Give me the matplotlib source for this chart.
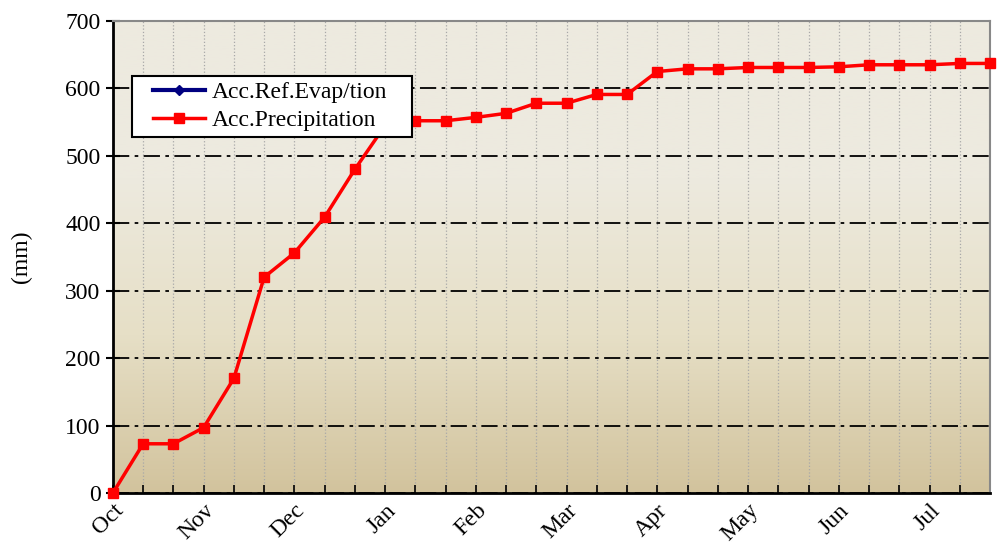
import numpy as np
import matplotlib
matplotlib.use('Agg')
import matplotlib.pyplot as plt
from matplotlib.colors import LinearSegmentedColormap
from matplotlib.patches import Rectangle

# dekad data, Oct 1st dekad .. Jul 3rd dekad
months = ['Oct', 'Nov', 'Dec', 'Jan', 'Feb', 'Mar', 'Apr', 'May', 'Jun', 'Jul']
acc_prec = [0, 73, 73, 97, 170, 320, 356, 409, 480, 545,
            552, 552, 557, 563, 578, 578, 591, 591, 625, 629,
            629, 631, 631, 631, 632, 635, 635, 635, 637, 637]
acc_evap = [0] + [np.nan] * 29

plt.rcParams['font.family'] = ['Liberation Serif', 'DejaVu Serif']

fig = plt.figure(figsize=(9.99, 5.47), dpi=100)
ax = fig.add_axes([0.113, 0.0987, 0.878, 0.863])

x = np.arange(len(acc_prec))

# background gradient
cmap = LinearSegmentedColormap.from_list('bg', ['#D2C39D', '#E6DFC6', '#EDEADF', '#EDEADF'])
grad = np.linspace(0, 1, 256).reshape(-1, 1)
ax.imshow(grad, aspect='auto', cmap=cmap, origin='lower',
          extent=[0, 29, 0, 700], zorder=0)

ax.plot(x, acc_evap, color='#000080', marker='D', markersize=5, lw=3,
        label='Acc.Ref.Evap/tion', zorder=3, clip_on=False)
ax.plot(x, acc_prec, color='red', marker='s', markersize=7.5, lw=2.5,
        label='Acc.Precipitation', zorder=4, clip_on=False)

ax.set_xlim(0, 29)
ax.set_ylim(0, 700)
ax.set_yticks(range(0, 701, 100))
ax.set_xticks(x, minor=True)
ax.set_xticks(np.arange(0, 30, 3))
ax.set_xticklabels(months, rotation=45, ha='right', rotation_mode='anchor', fontsize=17)
ax.tick_params(axis='y', labelsize=17, direction='inout', length=10, width=1.5, pad=4)
ax.tick_params(axis='x', which='both', direction='in', length=6, width=1.2, pad=5)

ax.grid(axis='x', which='both', color='#A8A8A8', linestyle=':', lw=0.9, zorder=1)
ax.grid(axis='y', color='black', linestyle='-.', lw=1.3, dashes=(9, 3, 2, 3), zorder=1)
ax.set_axisbelow(True)

for s in ['left', 'bottom']:
    ax.spines[s].set_linewidth(2)
for s in ['top', 'right']:
    ax.spines[s].set_color('#888888')
    ax.spines[s].set_linewidth(1.5)

ax.set_ylabel('(mm)', fontsize=17, labelpad=24)

# legend box drawn separately so its padding can match
ax.add_patch(Rectangle((0.0217, 0.754), 0.319, 0.1295, transform=ax.transAxes,
                       facecolor='white', edgecolor='black', lw=1.5, zorder=9))
leg = ax.legend(loc='center left', bbox_to_anchor=(0.046, 0.819), fontsize=17,
                frameon=False, borderpad=0, labelspacing=0.3, handlelength=2.2,
                handletextpad=0.3, borderaxespad=0)
leg.set_zorder(10)

plt.savefig('out.png', dpi=100)
